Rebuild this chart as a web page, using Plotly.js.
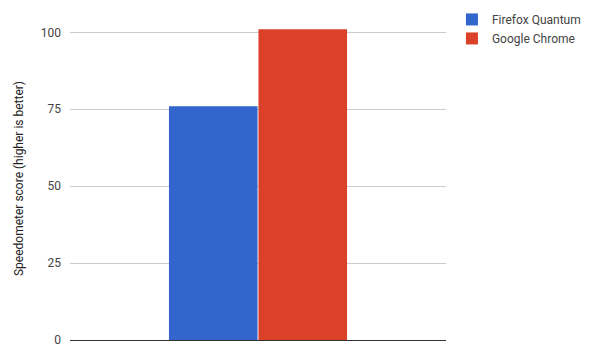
<!DOCTYPE html>
<html>
<head>
<meta charset="utf-8">
<script src="https://cdn.plot.ly/plotly-3.0.1.min.js"></script>
<style>html,body{margin:0;padding:0;background:#fff}#chart{width:590px;height:353px}</style>
</head>
<body>
<div id="chart"></div>
<script>
const categories = ["Speedometer"];
const seriesNames = ["Firefox Quantum", "Google Chrome"];
const firefoxValues = [76];
const chromeValues = [101];
const yTickValues = [0, 25, 50, 75, 100];
const colors = ["#3366cc", "#db4029"];

const traces = [
  {type: "bar", name: seriesNames[0], x: categories, y: firefoxValues, marker: {color: colors[0]}, hoverinfo: "none"},
  {type: "bar", name: seriesNames[1], x: categories, y: chromeValues, marker: {color: colors[1]}, hoverinfo: "none"}
];

const layout = {
  width: 590, height: 353,
  margin: {l: 70, r: 144, t: 17, b: 13, pad: 0, autoexpand: false},
  paper_bgcolor: "#fff", plot_bgcolor: "#fff",
  font: {family: "Roboto, Arial, sans-serif", size: 12, color: "#444"},
  barmode: "group",
  bargap: 0.524,
  bargroupgap: 0.01,
  showlegend: true,
  legend: {xref: "container", yref: "container", x: 0.766, xanchor: "left", y: 0.986, yanchor: "top", font: {size: 12, color: "#444"}, bgcolor: "rgba(0,0,0,0)", traceorder: "normal"},
  xaxis: {showticklabels: false, showgrid: false, zeroline: false, showline: false, ticks: ""},
  yaxis: {
    range: [0, 105], tickvals: yTickValues, ticktext: yTickValues.map(String),
    showgrid: true, gridcolor: "#cccccc", gridwidth: 1,
    zeroline: true, zerolinecolor: "#333333", zerolinewidth: 1,
    showline: false, ticks: "", ticklabelstandoff: 8,
    tickfont: {size: 12, color: "#444"},
    title: {text: "Speedometer score (higher is better)", font: {size: 12, color: "#222"}, standoff: 14}
  }
};

Plotly.newPlot("chart", traces, layout, {displayModeBar: false, staticPlot: true});
</script>
</body>
</html>
